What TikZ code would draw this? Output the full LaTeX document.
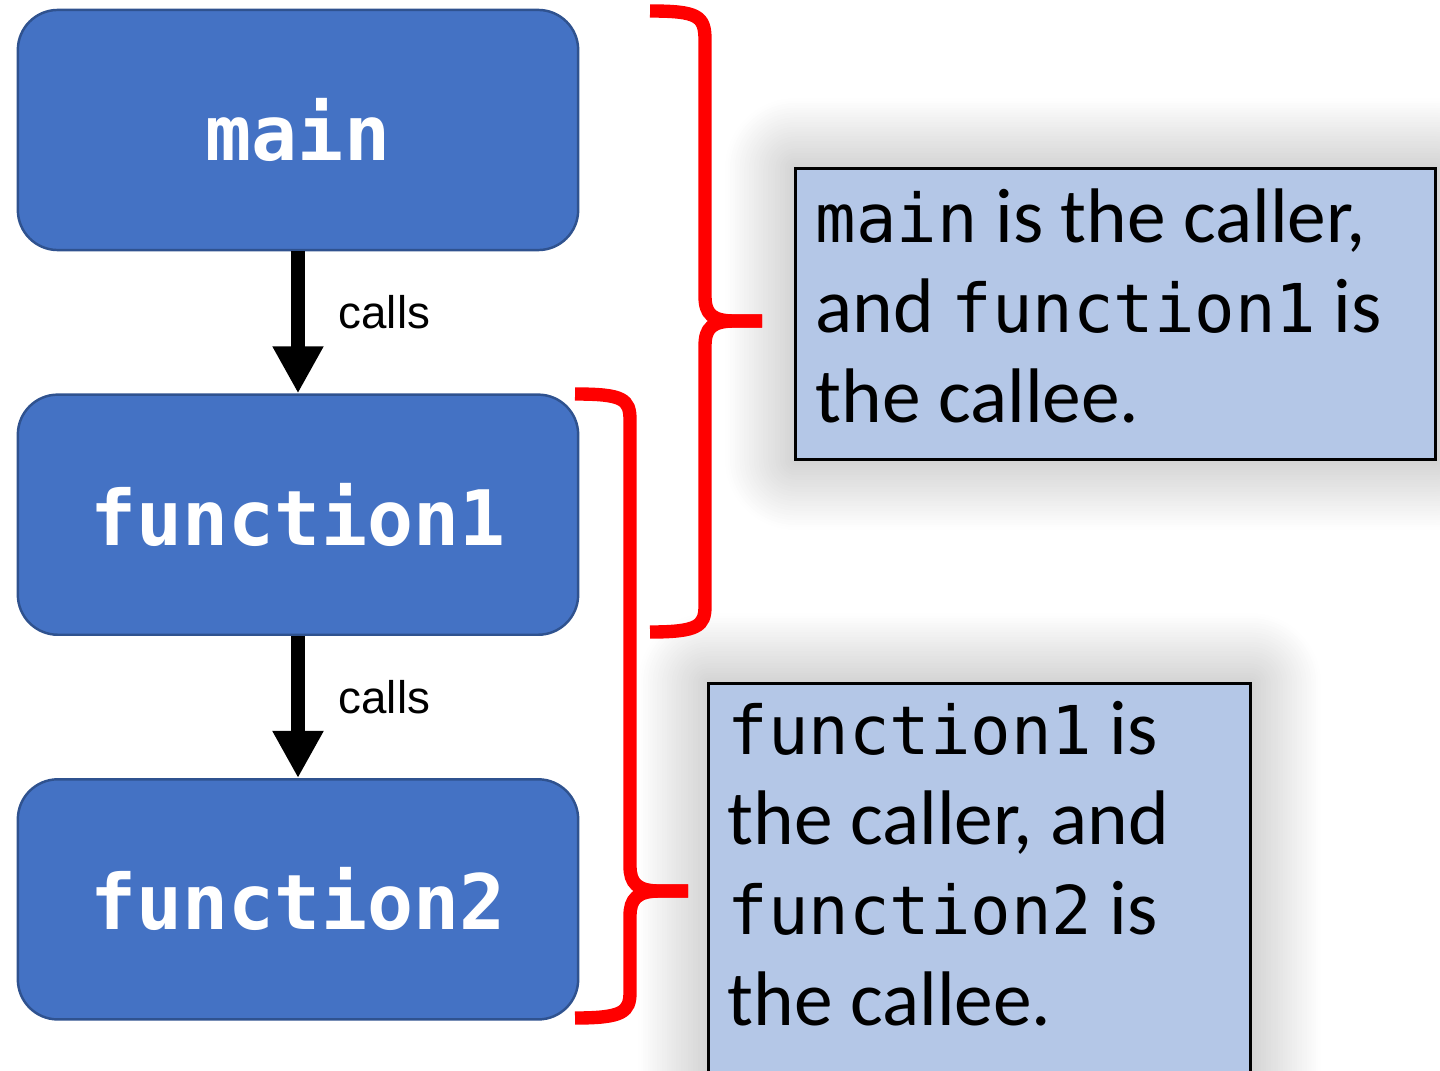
\documentclass[tikz,border=0pt]{standalone}
\usepackage{fontspec}
\setmainfont{Carlito}
\setmonofont[Scale=0.87]{DejaVu Sans Mono}
\newfontfamily\callfont{Liberation Sans}
\usepackage{tikz}
\usetikzlibrary{positioning, arrows.meta, shadows.blur}
\definecolor{boxBlue}{RGB}{68,114,196}
\definecolor{boxEdge}{RGB}{47,82,143}
\definecolor{noteBlue}{RGB}{180,199,231}
\definecolor{braceRed}{RGB}{255,0,0}

\begin{document}
\begin{tikzpicture}[
    x=0.01cm, y=-0.01cm,
    funcbox/.style={draw=boxEdge, line width=0.7pt, fill=boxBlue,
        rounded corners=0.4cm, minimum width=5.6cm, minimum height=2.4cm,
        text=white, font=\ttfamily\bfseries\fontsize{25}{28}\selectfont},
    callarrow/.style={line width=4pt, -{Triangle[length=13.4pt, width=13.6pt]}},
    calllabel/.style={anchor=base west, inner sep=0pt,
        font=\callfont\fontsize{13}{15}\selectfont},
    notebox/.style={draw=black, line width=0.8pt, fill=noteBlue, anchor=north west,
        blur shadow={shadow xshift=0pt, shadow yshift=0pt,
            shadow blur radius=20pt, shadow blur steps=30, shadow opacity=35}},
    notetext/.style={anchor=north west, inner sep=0pt, align=left,
        font=\fontsize{22}{25.6}\selectfont},
    bracket/.style={draw=braceRed, line width=3.8pt},
]
% Canvas: x in [0, 1440], y in [0, 1070] (pixels, y downwards)
\useasboundingbox (0,0) rectangle (1440,1070);
\clip (0,0) rectangle (1440,1070);

% --- Call chain ---
\node[funcbox] (main) at (298,130) {main};
\node[funcbox, below=1.42cm of main] (function1) {function1};
\node[funcbox, below=1.42cm of function1] (function2) {function2};

\draw[callarrow] (main.south) -- (function1.north);
\draw[callarrow] (function1.south) -- (function2.north);
\node[calllabel] (callsA) at (338,328) {calls};
\node[calllabel] (callsB) at (338,713) {calls};

% --- Explanation boxes (shadowed) ---
\node[notebox, minimum width=6.4cm, minimum height=2.91cm] (noteA) at (794,167) {};
\node[notetext] (noteAtext) at (815,188)
    {\texttt{main} is the caller,\\and \texttt{function1} is\\the callee.};

\node[notebox, minimum width=5.42cm, minimum height=4.4cm] (noteB) at (707,682) {};
\node[notetext] (noteBtext) at (727,701)
    {\texttt{function1} is\\the caller, and\\\texttt{function2} is\\the callee.};

% --- Red brackets: main+function1, function1+function2 ---
\draw[bracket] (650,11) .. controls (698,11) and (705,16) .. (705,40)
    -- (705,296) .. controls (705,314) and (712,321) .. (735,321) -- (762,321);
\draw[bracket] (762,321) -- (735,321) .. controls (712,321) and (705,328) .. (705,346)
    -- (705,606) .. controls (705,626) and (698,632) .. (650,632);

\draw[bracket] (575,394) .. controls (623,394) and (630,399) .. (630,420)
    -- (630,866) .. controls (630,883) and (637,891) .. (660,891) -- (688,891);
\draw[bracket] (688,891) -- (660,891) .. controls (637,891) and (630,899) .. (630,916)
    -- (630,992) .. controls (630,1012) and (623,1018) .. (575,1018);

\end{tikzpicture}
\end{document}
